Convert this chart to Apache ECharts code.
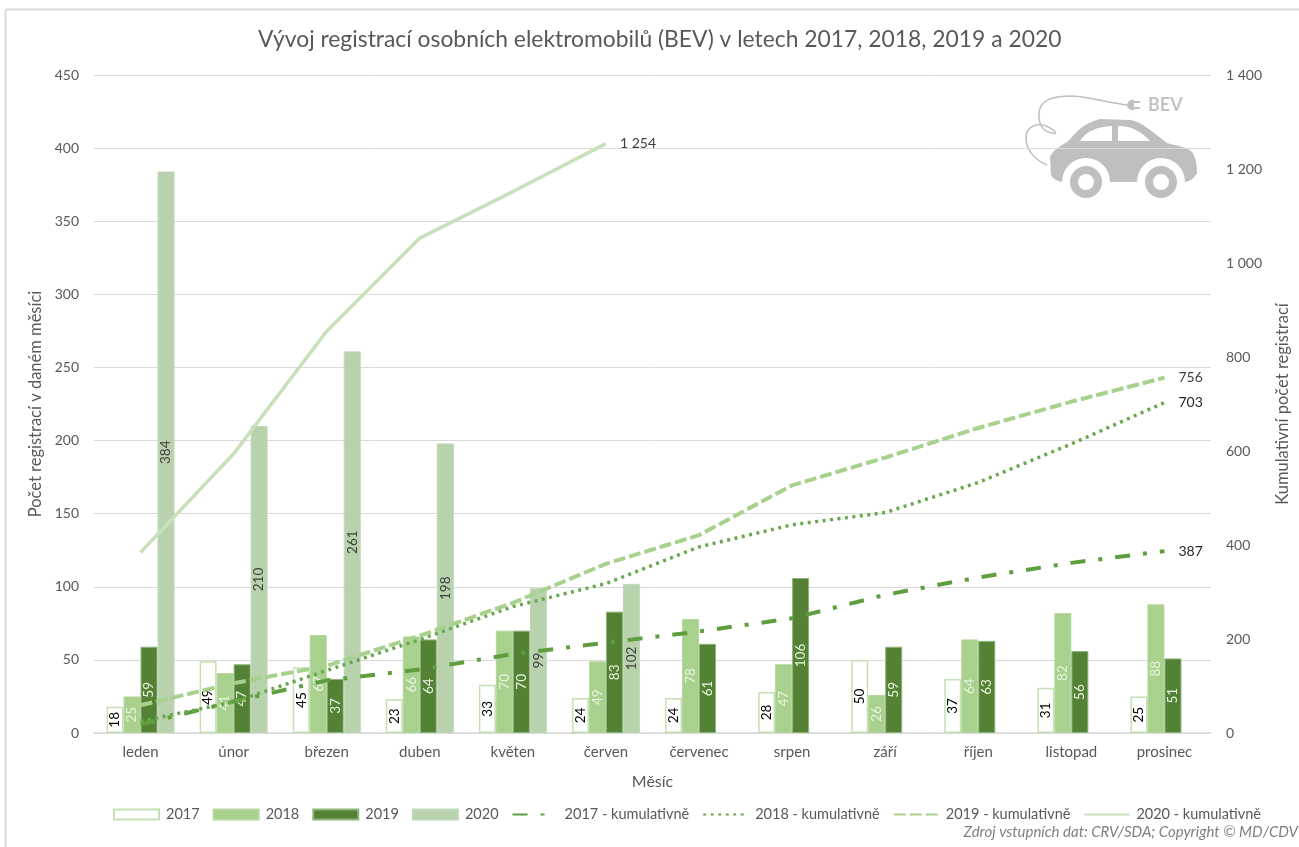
<!DOCTYPE html>
<html><head><meta charset="utf-8">
<style>html,body{margin:0;padding:0;background:#fff;overflow:hidden}#c{width:1299px;height:847px}</style>
<script src="https://cdn.jsdelivr.net/npm/echarts@6/dist/echarts.min.js"></script>
</head><body><div id="c"></div>
<script>
const months=['leden','únor','březen','duben','květen','červen','červenec','srpen','září','říjen','listopad','prosinec'];
const m2017=[18,49,45,23,33,24,24,28,50,37,31,25];
const m2018=[25,41,67,66,70,49,78,47,26,64,82,88];
const m2019=[59,47,37,64,70,83,61,106,59,63,56,51];
const m2020=[384,210,261,198,99,102];
const c2017=[18,67,112,135,168,192,216,244,294,331,362,387];
const c2018=[25,66,133,199,269,318,396,443,469,533,615,703];
const c2019=[59,106,143,207,277,360,421,527,586,649,705,756];
const c2020=[384,594,855,1053,1152,1254];
const barNames=['2017','2018','2019','2020'];
const lineNames=['2017 - kumulativně','2018 - kumulativně','2019 - kumulativně','2020 - kumulativně'];
const FONT='Lato, "Open Sans", sans-serif';
const GRAY='#595959';
const spaced=v=>String(v).replace(/\B(?=(\d{3})+$)/g,' ');
function bar(name,data,fill,border,bw,labelColor){
  return {name,type:'bar',data,barWidth:17,barGap:'0%',z:2,
    itemStyle:{color:fill,borderColor:border,borderWidth:bw},
    label:{show:true,position:'inside',rotate:90,color:labelColor,fontSize:13.5,fontFamily:FONT}};
}
function line(name,data,color,width,type,labelColor){
  return {name,type:'line',yAxisIndex:1,data,symbol:'none',smooth:false,z:3,
    lineStyle:{color,width,type,cap:'butt'},itemStyle:{color},
    endLabel:{show:true,formatter:p=>spaced(p.value),color:labelColor,fontSize:14,fontFamily:FONT,distance:14}};
}
const G=echarts.graphic;
const shapes={
  carBody:'M1050,157 C1053,150 1060,146 1067,142 C1075,135 1080,124 1100,119 L1130,120 C1142,122 1150,130 1167,143 C1176,146 1186,146 1192,152 C1196,158 1197,165 1197,173 C1194,179 1190,181 1185,182 A24,24 0 0 0 1137,182 L1110,182 A24,24 0 0 0 1062,182 C1058,181 1053,179 1051,175 Z',
  carGlass:'M1080,141 C1086,132 1095,127 1112,126 L1112,141 Z M1118,126 C1130,126 1140,130 1150,141 L1118,141 Z',
  carCable:'M1047,165 C1035,160 1026,150 1026,138 C1026,125 1040,122 1048,127 C1056,131 1058,135 1052,133 C1044,132 1038,125 1039,113 C1040,100 1052,96 1072,96 C1090,97 1110,103 1127,105',
  carPlug:'M1127,105 A5.5,5.5 0 0 1 1134,100 L1134,110 A5.5,5.5 0 0 1 1127,105 Z M1134,101 L1140,101 L1140,103 L1134,103 Z M1134,107 L1140,107 L1140,109 L1134,109 Z'
};
Object.keys(shapes).forEach(k=>G.registerShape(k,G.extendPath(shapes[k],{})));
const chart=echarts.init(document.getElementById('c'),null,{renderer:'canvas'});
chart.setOption({
  animation:false,backgroundColor:'#fff',
  title:{text:'Vývoj registrací osobních elektromobilů (BEV) v letech 2017, 2018, 2019 a 2020',left:253,top:23,
    textStyle:{fontFamily:FONT,fontSize:22.85,fontWeight:'normal',color:GRAY}},
  grid:{left:94,right:85,top:75,bottom:114},
  legend:{left:108,top:802,itemWidth:45,itemHeight:10,itemGap:13,
    textStyle:{fontFamily:FONT,fontSize:14.5,color:GRAY,padding:[0,0,0,2]},
    data:[...barNames.map(name=>({name,icon:'rect'})),...lineNames.map(name=>({name,itemStyle:{opacity:0}}))]},
  xAxis:{type:'category',data:months,name:'Měsíc',nameLocation:'middle',nameGap:41,
    nameTextStyle:{fontFamily:FONT,fontSize:16,color:GRAY},
    axisLine:{lineStyle:{color:'#d9d9d9',width:1.5}},axisTick:{show:false},
    axisLabel:{fontFamily:FONT,fontSize:15,color:GRAY,margin:12}},
  yAxis:[
    {type:'value',min:0,max:450,interval:50,name:'Počet registrací v daném měsíci',nameLocation:'middle',nameGap:47,
     nameTextStyle:{fontFamily:FONT,fontSize:16.5,color:GRAY},
     axisLine:{show:false},axisTick:{show:false},
     splitLine:{lineStyle:{color:'#d9d9d9',width:1}},
     axisLabel:{fontFamily:FONT,fontSize:14,color:GRAY,margin:15,padding:[0,0,3,0]}},
    {type:'value',min:0,max:1400,interval:200,name:'Kumulativní počet registrací',nameLocation:'middle',nameGap:63,
     nameTextStyle:{fontFamily:FONT,fontSize:16.5,color:GRAY},
     axisLine:{show:false},axisTick:{show:false},splitLine:{show:false},
     axisLabel:{fontFamily:FONT,fontSize:14,color:GRAY,margin:15,padding:[0,0,3,0],formatter:spaced}}
  ],
  series:[
    bar(barNames[0],m2017,'#ffffff','#c5e0b4',1.5,'#000000'),
    bar(barNames[1],m2018,'#a9d18e','#b5d79d',1,'#e8f3df'),
    bar(barNames[2],m2019,'#548235','#8fb37a',1,'#e8f3df'),
    bar(barNames[3],m2020,'#b7d2ad','#c0d8b7',1,'#404040'),
    line(lineNames[0],c2017,'#5f9e3f',4,[15,13,4,13],'#262626'),
    line(lineNames[1],c2018,'#6aa84f',3.5,[3,4.5],'#262626'),
    line(lineNames[2],c2019,'#a9d18e',4,[12,4],'#404040'),
    line(lineNames[3],c2020,'#c8e0bb',3.5,'solid','#404040')
  ],
  graphic:[
    {type:'carBody',z:-1,style:{fill:'#bfbfbf'}},
    {type:'carGlass',z:-1,style:{fill:'#fff'}},
    {type:'circle',z:-1,shape:{cx:1086,cy:182,r:12},style:{fill:'none',stroke:'#bfbfbf',lineWidth:8}},
    {type:'circle',z:-1,shape:{cx:1161,cy:182,r:12},style:{fill:'none',stroke:'#bfbfbf',lineWidth:8}},
    {type:'carCable',z:-1,style:{fill:'none',stroke:'#bfbfbf',lineWidth:1.5}},
    {type:'carPlug',z:-1,style:{fill:'#bfbfbf'}},
    {type:'text',z:-1,left:1148,top:96,style:{text:'BEV',fill:'#c4c4c4',fontFamily:FONT,fontSize:18,fontWeight:'bold'}},
    {type:'text',right:1,top:825,style:{text:'Zdroj vstupních dat: CRV/SDA; Copyright © MD/CDV',fill:'#7f7f7f',fontFamily:FONT,fontSize:15,fontStyle:'italic'}},
    {type:'line',shape:{x1:5.5,y1:9.5,x2:5.5,y2:847},style:{stroke:'#d9d9d9',lineWidth:2}},
    {type:'line',shape:{x1:5.5,y1:9.5,x2:1299,y2:9.5},style:{stroke:'#d9d9d9',lineWidth:2}}
  ]
});
</script></body></html>
